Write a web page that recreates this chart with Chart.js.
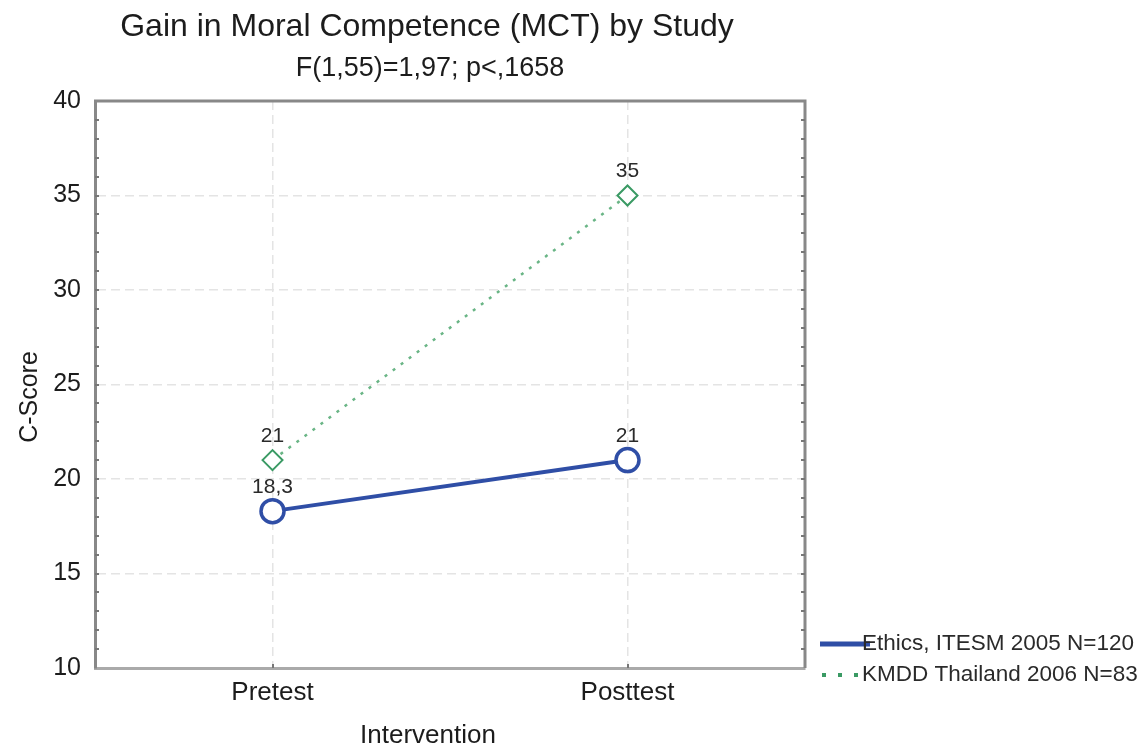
<!DOCTYPE html>
<html>
<head>
<meta charset="utf-8">
<script src="https://cdn.jsdelivr.net/npm/chart.js@4.4.1/dist/chart.umd.min.js"></script>
<style>
  html, body { margin: 0; padding: 0; background: #fff; }
  #wrap { width: 1138px; height: 746px; }
</style>
</head>
<body>
<div id="wrap"><canvas id="chartCanvas" width="1138" height="746"></canvas></div>
<script>
const categories = ['Pretest', 'Posttest'];
const ethicsScores = [18.3, 21];
const kmddScores = [21, 35];
const seriesNames = ['Ethics, ITESM 2005 N=120', 'KMDD Thailand 2006 N=83'];
const yMin = 10, yMax = 40, yStep = 5;
const chartTitle = 'Gain in Moral Competence (MCT) by Study';
const chartSubtitle = 'F(1,55)=1,97; p<,1658';
const xTitle = 'Intervention';
const yTitle = 'C-Score';

const FONT = '"Liberation Sans", Arial, sans-serif';
const BLUE = '#2f4ea6';
const GREEN = '#3a9a64';
const GREEN_LINE = '#6ab586';
const TEXT = '#1c1c1c';

// decimal comma, as in the labels
const fmt = v => String(v).replace('.', ',');

const decorations = {
    id: 'decorations',
    afterDatasetsDraw(chart) {
        const { ctx, chartArea: a, scales: { x, y } } = chart;
        ctx.save();

        // top and right sides of the frame
        ctx.strokeStyle = '#888';
        ctx.lineWidth = 3;
        ctx.beginPath();
        ctx.moveTo(a.left - 1, a.top);
        ctx.lineTo(a.right, a.top);
        ctx.lineTo(a.right, a.bottom);
        ctx.stroke();

        // small inward ticks
        ctx.strokeStyle = '#777';
        ctx.lineWidth = 2;
        ctx.beginPath();
        for (let v = yMin + 1; v < yMax; v++) {
            const py = Math.round(y.getPixelForValue(v));
            ctx.moveTo(a.left, py); ctx.lineTo(a.left + 4, py);
            ctx.moveTo(a.right, py); ctx.lineTo(a.right - 4, py);
        }
        categories.forEach((c, i) => {
            const px = Math.round(x.getPixelForValue(i));
            ctx.moveTo(px, a.bottom); ctx.lineTo(px, a.bottom - 4);
        });
        ctx.stroke();

        // value labels above the points
        ctx.font = '21px ' + FONT;
        ctx.fillStyle = '#2a2a2a';
        ctx.textAlign = 'center';
        ctx.textBaseline = 'middle';
        chart.data.datasets.forEach((ds, di) => {
            chart.getDatasetMeta(di).data.forEach((pt, i) => {
                ctx.fillText(fmt(ds.data[i]), pt.x, pt.y - 24);
            });
        });
        ctx.restore();
    },
    afterDraw(chart) {
        const { ctx, chartArea: a } = chart;
        ctx.save();
        ctx.fillStyle = TEXT;
        ctx.textAlign = 'center';
        ctx.textBaseline = 'alphabetic';

        ctx.font = '32px ' + FONT;
        ctx.fillText(chartTitle, 427, 36);
        ctx.font = '27px ' + FONT;
        ctx.fillText(chartSubtitle, 430, 76);

        ctx.font = '26px ' + FONT;
        ctx.fillText(xTitle, 428, 743);

        ctx.save();
        ctx.translate(37, 397);
        ctx.rotate(-Math.PI / 2);
        ctx.font = '25px ' + FONT;
        ctx.fillText(yTitle, 0, 0);
        ctx.restore();

        // legend, bottom right outside the frame
        const lx = a.right + 15;
        const rows = [a.bottom - 24, a.bottom + 7];
        chart.data.datasets.forEach((ds, i) => {
            const ry = rows[i];
            ctx.save();
            ctx.strokeStyle = i === 0 ? ds.borderColor : ds.pointBorderColor;
            ctx.lineWidth = i === 0 ? 5 : 4;
            ctx.setLineDash(i === 0 ? [] : [4, 12]);
            ctx.lineDashOffset = -2;
            ctx.beginPath();
            ctx.moveTo(lx, ry);
            ctx.lineTo(lx + 50, ry);
            ctx.stroke();
            ctx.restore();
            ctx.font = '22.5px ' + FONT;
            ctx.textAlign = 'left';
            ctx.textBaseline = 'middle';
            ctx.fillStyle = '#2a2a2a';
            ctx.fillText(ds.label, lx + 42, ry);
        });
        ctx.restore();
    }
};

const canvas = document.getElementById('chartCanvas');

new Chart(canvas, {
    type: 'line',
    data: {
        labels: categories,
        datasets: [
            {
                label: seriesNames[0],
                data: ethicsScores,
                borderColor: BLUE,
                borderWidth: 4,
                pointStyle: 'circle',
                pointRadius: 11.5,
                pointBorderWidth: 3.5,
                pointBackgroundColor: '#fff',
                pointBorderColor: BLUE
            },
            {
                label: seriesNames[1],
                data: kmddScores,
                borderColor: GREEN_LINE,
                borderWidth: 2.5,
                borderDash: [3, 7],
                pointStyle: 'rectRot',
                pointRadius: 10,
                pointBorderWidth: 2,
                pointBackgroundColor: '#fff',
                pointBorderColor: GREEN
            }
        ]
    },
    options: {
        responsive: false,
        animation: false,
        devicePixelRatio: 1,
        layout: { padding: { left: 0, top: 101, right: 333, bottom: 0 } },
        plugins: {
            legend: { display: false },
            title: { display: false },
            tooltip: { enabled: false }
        },
        scales: {
            x: {
                offset: true,
                grid: { offset: false, color: '#e4e4e4', lineWidth: 1.5, drawTicks: false },
                border: { color: '#aaa', width: 3, dash: [9, 5] },
                ticks: { font: { family: FONT, size: 26 }, color: TEXT, padding: 9 },
                afterFit: s => { s.height = 78; }
            },
            y: {
                min: yMin,
                max: yMax,
                ticks: {
                    stepSize: 1,
                    autoSkip: false,
                    callback: v => (v % yStep === 0 ? String(v) : ''),
                    font: { family: FONT, size: 25 },
                    color: TEXT,
                    padding: 14
                },
                grid: {
                    color: c => (c.tick && c.tick.value % yStep === 0 && c.tick.value > yMin && c.tick.value < yMax) ? '#e4e4e4' : 'transparent',
                    lineWidth: 1.5,
                    drawTicks: false
                },
                border: { color: '#888', width: 3, dash: [9, 5] },
                afterFit: s => { s.width = 95; }
            }
        }
    },
    plugins: [decorations]
});
</script>
</body>
</html>
